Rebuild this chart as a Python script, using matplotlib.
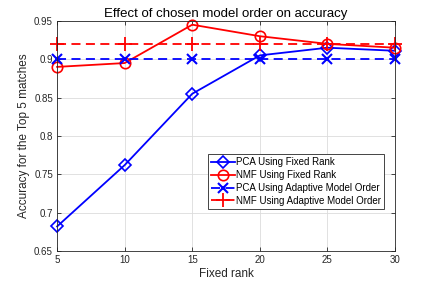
import matplotlib
matplotlib.use("Agg")
import matplotlib.pyplot as plt

# data
ranks = [5, 10, 15, 20, 25, 30]
pca_fixed = [0.682, 0.762, 0.855, 0.905, 0.915, 0.911]
nmf_fixed = [0.890, 0.895, 0.945, 0.930, 0.920, 0.915]
pca_adaptive = [0.900, 0.900, 0.900, 0.900, 0.900, 0.900]
nmf_adaptive = [0.920, 0.920, 0.920, 0.920, 0.920, 0.920]

plt.rcParams.update({"font.family": ["Liberation Sans", "DejaVu Sans"],
                     "font.size": 7})

fig = plt.figure(figsize=(4.36, 2.82), dpi=100)
ax = fig.add_axes([0.131, 0.110, 0.775, 0.816])

ax.plot(ranks, pca_fixed, "-", color="#0000FF", lw=1.3, marker="D", ms=6,
        mfc="none", mew=1.2, clip_on=False, label="PCA Using Fixed Rank")
ax.plot(ranks, nmf_fixed, "-", color="#FF0000", lw=1.3, marker="o", ms=7.5,
        mfc="none", mew=1.2, clip_on=False, label="NMF Using Fixed Rank")
ax.plot(ranks, pca_adaptive, "--", color="#0000FF", lw=1.3, marker="x", ms=7,
        mew=1.5, dashes=(5, 3), clip_on=False,
        label="PCA Using Adaptive Model Order")
ax.plot(ranks, nmf_adaptive, "--", color="#FF0000", lw=1.3, marker="+", ms=10,
        mew=1.3, dashes=(5, 3), clip_on=False,
        label="NMF Using Adaptive Model Order")

ax.set_xlim(5, 30)
ax.set_ylim(0.65, 0.95)
ax.set_xticks(ranks)
ax.set_yticks([0.65, 0.7, 0.75, 0.8, 0.85, 0.9, 0.95])
ax.set_yticklabels(["0.65", "0.7", "0.75", "0.8", "0.85", "0.9", "0.95"])
ax.grid(True, color="#DCDCDC", lw=0.6)
ax.set_axisbelow(True)
for s in ax.spines.values():
    s.set_color("#262626")
    s.set_linewidth(0.6)
ax.tick_params(direction="in", length=3, width=0.6, colors="#262626",
               labelsize=7, top=True, right=True, pad=3)
for t in ax.get_xticklabels() + ax.get_yticklabels():
    t.set_color("#262626")

ax.set_xlabel("Fixed rank", fontsize=8.5, color="#262626", labelpad=2)
ax.set_ylabel("Accuracy for the Top 5 matches", fontsize=8.5, color="#262626",
              labelpad=3)
ax.set_title("Effect of chosen model order on accuracy", fontsize=9.5,
             color="black", pad=3)

leg = ax.legend(loc="lower right", bbox_to_anchor=(0.983, 0.16), fontsize=7,
                handlelength=2.4, handletextpad=0.15, borderpad=0.35,
                labelspacing=0.3, fancybox=False, framealpha=1,
                edgecolor="#262626")
leg.get_frame().set_linewidth(0.6)
leg.set_zorder(10)

fig.savefig("out.png", dpi=100)
